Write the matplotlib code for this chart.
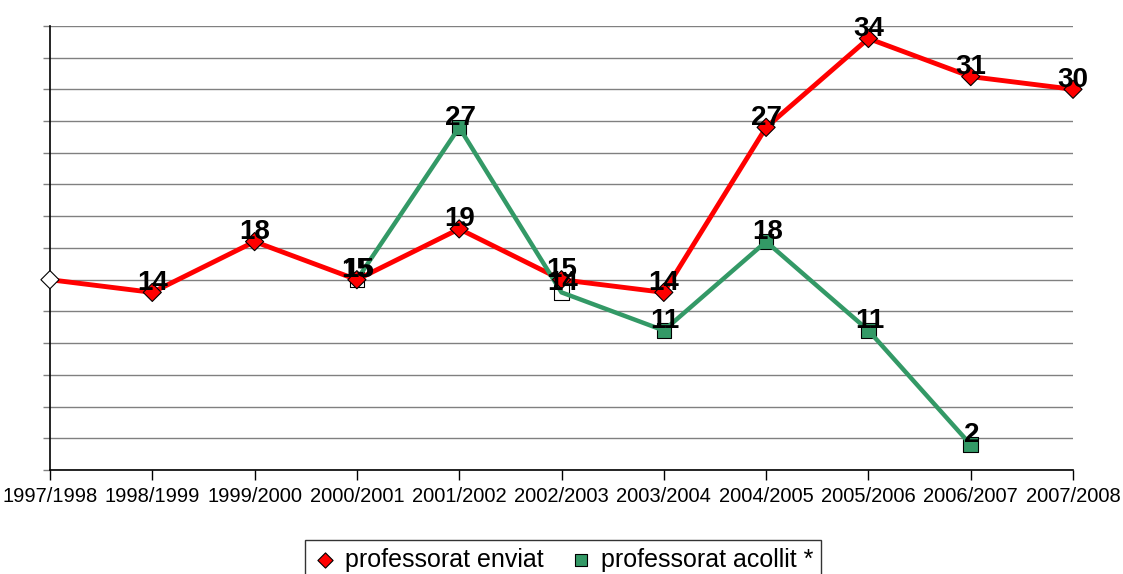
import matplotlib.pyplot as plt
import numpy as np

plt.rcParams['font.family'] = ['Liberation Sans', 'DejaVu Sans']

years = ['1997/1998', '1998/1999', '1999/2000', '2000/2001', '2001/2002',
         '2002/2003', '2003/2004', '2004/2005', '2005/2006', '2006/2007',
         '2007/2008']
enviat = [15, 14, 18, 15, 19, 15, 14, 27, 34, 31, 30]
acollit = [np.nan, np.nan, np.nan, 15, 27, 14, 11, 18, 11, 2, np.nan]
red = '#FF0000'
green = '#339966'

fig = plt.figure(figsize=(11.23, 5.74), dpi=100)
ax = fig.add_axes([0.0445, 0.181, 0.911, 0.774])

x = np.arange(len(years))

# red series, first point hollow
ax.plot(x, enviat, color=red, lw=3.5, zorder=3, clip_on=False)
red_fc = ['white'] + [red] * (len(x) - 1)
ax.scatter(x, enviat, marker='D', s=85, c=red_fc, edgecolors='black',
           linewidths=0.8, zorder=4, clip_on=False)

# green series, two hollow squares
ax.plot(x, acollit, color=green, lw=3.2, zorder=3)
green_fc = [green] * len(x)
green_fc[3] = 'white'
green_fc[5] = 'white'
ax.scatter(x, acollit, marker='s', s=110, c=green_fc, edgecolors='black',
           linewidths=0.8, zorder=2, clip_on=False)

# value labels
for i, v in enumerate(enviat):
    if i == 0:
        continue
    ax.annotate(str(v), (x[i], v), xytext=(0, 2), textcoords='offset points',
                ha='center', va='baseline', fontsize=20, fontweight='bold',
                zorder=6)
for i, v in enumerate(acollit):
    if np.isnan(v):
        continue
    ax.annotate(str(int(v)), (x[i], v), xytext=(1, 2), textcoords='offset points',
                ha='center', va='baseline', fontsize=20, fontweight='bold',
                zorder=6)

ax.set_xlim(0, len(years) - 1)
ax.set_ylim(0, 35)
ax.set_xticks(x)
ax.set_xticklabels(years, fontsize=14.5)
ax.set_yticks(np.arange(0, 35.1, 2.5))
ax.set_yticklabels([])
ax.tick_params(axis='x', direction='out', length=7, width=1, pad=5, color='black')
ax.tick_params(axis='y', direction='out', length=5, width=1, color='#808080')
ax.grid(axis='y', color='#808080', lw=1)
ax.set_axisbelow(True)

for s in ['top', 'right']:
    ax.spines[s].set_visible(False)
ax.spines['left'].set_color('black')
ax.spines['bottom'].set_color('black')
ax.spines['left'].set_linewidth(1.2)
ax.spines['bottom'].set_linewidth(1.2)

h1 = ax.scatter([], [], marker='D', s=60, c=red, edgecolors='black', linewidths=0.8)
h2 = ax.scatter([], [], marker='s', s=70, c=green, edgecolors='black', linewidths=0.8)
leg = fig.legend([h1, h2], ['professorat enviat', 'professorat acollit *'],
                 loc='upper center', bbox_to_anchor=(0.501, 1 - 540 / 574),
                 ncol=2, fontsize=18, frameon=True, fancybox=False,
                 edgecolor='black', handletextpad=0.3, columnspacing=1.0,
                 borderpad=0.3, handlelength=1.0, borderaxespad=0)
leg.get_frame().set_linewidth(1)

fig.savefig('out.png', dpi=100)
